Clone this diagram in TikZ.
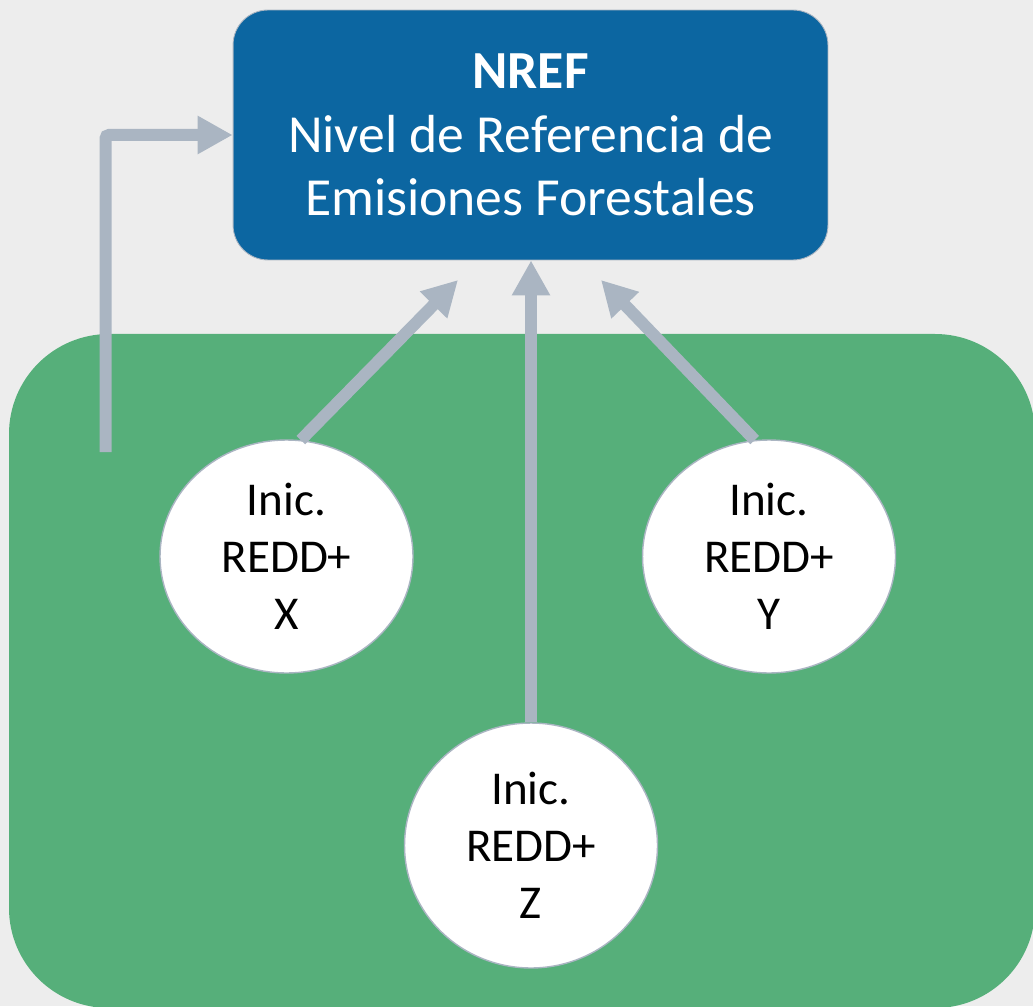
\documentclass[tikz,border=0pt]{standalone}
\usepackage{fontspec}
\setmainfont{Carlito}
\usepackage{tikz}
\usetikzlibrary{
    arrows.meta,
    positioning,
    shapes.geometric
}
\usepackage{xcolor}
\definecolor{pagegray}{RGB}{237,237,237}
\definecolor{forestgreen}{RGB}{86,175,122}
\definecolor{nrefblue}{RGB}{12,102,161}
\definecolor{arrowgray}{RGB}{170,181,194}

\begin{document}
\begin{tikzpicture}[
    x=0.02cm, y=-0.02cm,
    refbox/.style={rectangle, rounded corners=0.7cm, fill=nrefblue, draw=arrowgray, line width=0.5pt, minimum width=11.9cm, minimum height=5cm, align=center, text=white, font=\fontsize{30.5}{36}\selectfont},
    inic/.style={ellipse, fill=white, draw=arrowgray, line width=0.8pt, minimum width=5.06cm, minimum height=4.66cm, inner sep=0pt, align=center, font=\fontsize{26.8}{32.6}\selectfont},
    arrow/.style={-{Triangle[length=0.7cm, width=0.72cm]}, line width=0.24cm, arrowgray}
]

% Page and green area
\useasboundingbox (0,0) rectangle (1033,1006);
\fill[pagegray] (0,0) rectangle (1033,1006);
\begin{scope}
\clip (0,0) rectangle (1033,1006);
\fill[forestgreen, rounded corners=2cm] (9,334) rectangle (1035,1008);
\end{scope}

% Reference level
\node[refbox] (nref) at (530.5,135) {\textbf{NREF}\\Nivel de Referencia de\\Emisiones Forestales};

% Initiatives
\node[inic] (incx) at (286.5,556.5) {Inic.\\REDD+\\X};
\node[inic] (incy) at (769,556.5) {Inic.\\REDD+\\Y};
\node[inic, minimum height=4.9cm] (incz) at (531,845.5) {Inic.\\REDD+\\Z};

% Free ends
\coordinate (src) at (105.5,452);
\coordinate (tipx) at (458,280);
\coordinate (tipy) at (601,280);

% Arrows
\draw[arrow, rounded corners=2pt] (src) |- (nref.west);
\draw[arrow] (incx.83) -- (tipx);
\draw[arrow] (incy.97) -- (tipy);
\draw[arrow] (incz.north) -- (incz.north |- nref.south);

\end{tikzpicture}
\end{document}
